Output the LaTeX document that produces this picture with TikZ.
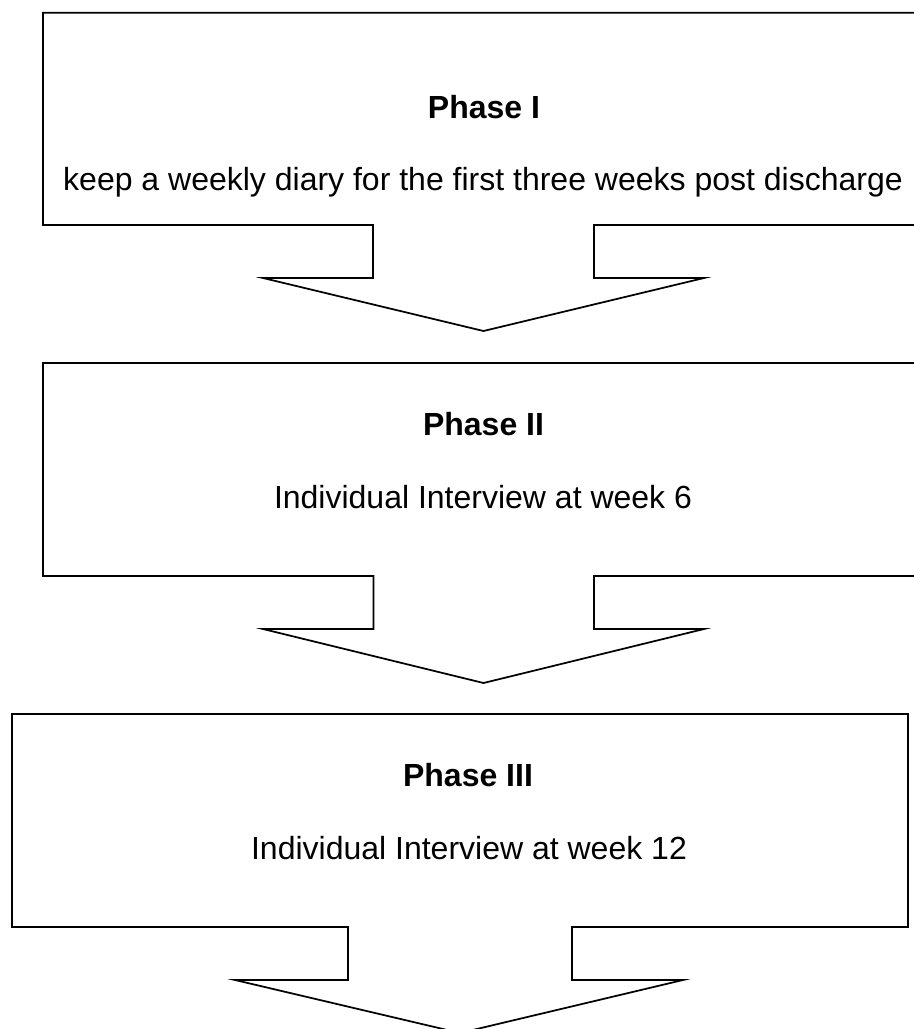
\documentclass[tikz,border=0pt]{standalone}
\usepackage{fontspec}
\setmainfont{Liberation Sans}
\begin{document}
\begin{tikzpicture}[x=0.75pt,y=-0.75pt,
  outline/.style={draw=black,line width=1.3pt,line join=miter},
  phasetitle/.style={anchor=base,inner sep=0pt,font=\fontsize{24}{28}\selectfont\bfseries},
  phasetext/.style={anchor=base,inner sep=0pt,font=\fontsize{24}{28}\selectfont}]
\useasboundingbox (0,0) rectangle (914,1029);
\clip (0,0) rectangle (914,1029);
\fill[white] (0,0) rectangle (914,1029);
% Phase I box with arrow
\draw[outline] (373,225) -- (43,225) -- (43,12.7) -- (924,12.7) -- (924,225) -- (594,225)
  -- (594,278) -- (704,278) -- (483.5,331) -- (263,278) -- (373,278) -- cycle;
% Phase II box with arrow
\draw[outline] (373.5,576) -- (43,576) -- (43,363) -- (924,363) -- (924,576) -- (594,576)
  -- (594,629) -- (704,629) -- (483.5,683) -- (263,629) -- (373.5,629) -- cycle;
% Phase III box with arrow
\draw[outline] (348,927) -- (12,927) -- (12,714) -- (908,714) -- (908,927) -- (572,927)
  -- (572,980) -- (683,980) -- (460,1033) -- (235,980) -- (348,980) -- cycle;
% texts
\node[phasetitle] (t1) at (484,118) {Phase I};
\node[phasetext] (d1) at (483,190) {keep a weekly diary for the first three weeks post discharge};
\node[phasetitle] (t2) at (483.5,435) {Phase II};
\node[phasetext] (d2) at (483,508) {Individual Interview at week 6};
\node[phasetitle] (t3) at (468,786) {Phase III};
\node[phasetext] (d3) at (469,859) {Individual Interview at week 12};
\end{tikzpicture}
\end{document}
